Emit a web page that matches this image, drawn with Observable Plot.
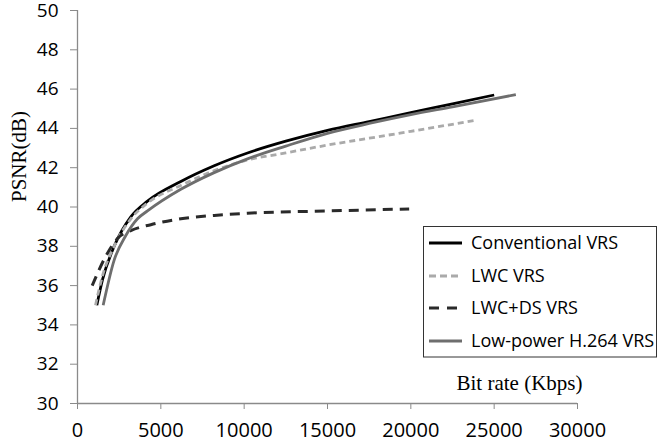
<!DOCTYPE html>
<html>
<head>
<meta charset="utf-8">
<script src="https://cdn.jsdelivr.net/npm/d3@7"></script>
<script src="https://cdn.jsdelivr.net/npm/@observablehq/plot@0.6"></script>
<style>
  html, body { margin: 0; padding: 0; background: #fff; }
  #chart svg { display: block; overflow: visible; }
</style>
</head>
<body>
<div id="chart"></div>
<script>
const seriesNames = ["Conventional VRS", "LWC VRS", "LWC+DS VRS", "Low-power H.264 VRS"];
const conventional = [[1160,35.0],[1500,36.3],[2200,38.0],[3200,39.5],[4200,40.3],[6200,41.3],[8200,42.1],[10200,42.75],[12500,43.35],[15000,43.9],[17500,44.35],[20000,44.8],[22500,45.25],[25000,45.7]];
const lwc = [[1080,35.0],[1500,36.5],[2200,38.0],[3200,39.4],[4200,40.2],[6200,41.1],[8200,41.85],[10000,42.35],[12500,42.75],[15000,43.15],[17500,43.5],[20000,43.85],[23800,44.4]];
const lwcds = [[880,36.0],[1700,37.5],[2400,38.4],[3200,38.8],[4400,39.1],[6200,39.4],[8200,39.57],[10200,39.68],[15000,39.8],[19900,39.9]];
const lowpower = [[1540,35.0],[2200,37.3],[2900,38.55],[3600,39.4],[4200,39.8],[6200,40.9],[8200,41.75],[10200,42.45],[12500,43.1],[15000,43.75],[17500,44.25],[20000,44.7],[22500,45.1],[26300,45.72]];
const xTicks = [0,5000,10000,15000,20000,25000,30000];
const yTicks = [30,32,34,36,38,40,42,44,46,48,50];
const xLabel = "Bit rate (Kbps)";
const yLabel = "PSNR(dB)";

const styles = [
  {stroke: "#000000", strokeWidth: 2.8, dash: null},
  {stroke: "#aaaaaa", strokeWidth: 2.8, dash: "6,4"},
  {stroke: "#2a2a2a", strokeWidth: 3, dash: "10,7"},
  {stroke: "#6e6e6e", strokeWidth: 2.8, dash: null}
];
const allData = [conventional, lwc, lwcds, lowpower];

const tickFont = "'Open Sans', sans-serif";
const serif = "'Liberation Serif', 'DejaVu Serif', serif";

const lineMarks = allData.map((d, i) => Plot.line(d, {
  x: p => p[0], y: p => p[1], curve: "monotone-x",
  stroke: styles[i].stroke, strokeWidth: styles[i].strokeWidth,
  strokeDasharray: styles[i].dash || undefined, strokeLinecap: "butt"
}));

const plot = Plot.plot({
  width: 658, height: 444,
  marginLeft: 77, marginRight: 81, marginTop: 10, marginBottom: 41,
  style: {fontFamily: tickFont, fontSize: "19px", color: "#000", background: "#fff", overflow: "visible"},
  x: {domain: [0, 30000], axis: null},
  y: {domain: [30, 50], axis: null},
  marks: [
    Plot.axisX({ticks: xTicks, tickSize: 6, tickPadding: 13, stroke: "#8a8a8a", fill: "#000", tickFormat: d => String(d), label: null, fontSize: 20}),
    Plot.axisY({ticks: yTicks, tickSize: 7, tickPadding: 12, stroke: "#8a8a8a", fill: "#000", tickFormat: d => String(d), label: null, fontSize: 19}),
    Plot.ruleY([30], {stroke: "#8a8a8a", strokeWidth: 1.3}),
    Plot.ruleX([0], {stroke: "#8a8a8a", strokeWidth: 1.3}),
    ...lineMarks,
    Plot.text([xLabel], {text: d => d, frameAnchor: "bottom-right", textAnchor: "end", lineAnchor: "bottom", dx: 5, dy: -14, fontFamily: serif, fontSize: 21, fill: "#000"}),
    Plot.text([yLabel], {text: d => d, frameAnchor: "left", rotate: -90, dx: -58, dy: -5, fontFamily: serif, fontSize: 21, fill: "#000"})
  ]
});
document.getElementById("chart").appendChild(plot);

// Legend
const svg = d3.select(plot);
const lg = svg.append("g").attr("font-family", tickFont).attr("font-size", 18).attr("text-anchor", "start");
lg.append("rect").attr("x", 423.5).attr("y", 226.5).attr("width", 233).attr("height", 130.5)
  .attr("fill", "#fff").attr("stroke", "#333").attr("stroke-width", 1);
const rowY = [243, 276, 308, 341];
seriesNames.forEach((name, i) => {
  const s = styles[i];
  lg.append("line").attr("x1", 429).attr("x2", 462).attr("y1", rowY[i]).attr("y2", rowY[i])
    .attr("stroke", s.stroke).attr("stroke-width", s.strokeWidth)
    .attr("stroke-dasharray", i === 1 ? "7,4" : (i === 2 ? "10,8" : null));
  lg.append("text").attr("x", 471).attr("y", rowY[i]).attr("dy", "0.35em").attr("fill", "#000")
    .attr("text-anchor", "start").text(name);
});
</script>
</body>
</html>
